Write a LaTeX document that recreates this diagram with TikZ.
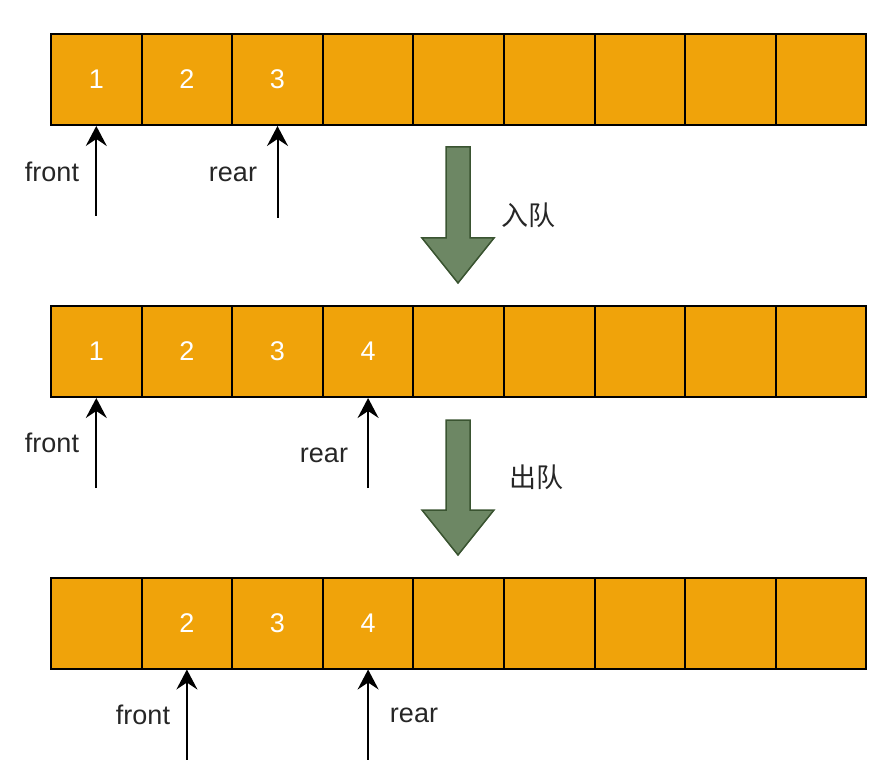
\documentclass[tikz,border=0pt]{standalone}
\usepackage{fontspec}
\setmainfont{Liberation Sans}
\newfontfamily\cjk{Noto Sans CJK SC}
\usepackage{xcolor}
\usetikzlibrary{arrows.meta}
\definecolor{cellorange}{HTML}{F0A30A}
\definecolor{arrowgreen}{HTML}{6D8764}
\definecolor{arrowedge}{HTML}{3A5431}

\begin{document}
\begin{tikzpicture}[x=1pt, y=-1pt,
    cell/.style={draw, line width=2pt, fill=cellorange, minimum width=90.6pt, minimum height=91pt, inner sep=0pt, text=white, font=\fontsize{27}{32}\selectfont},
    ptr/.style={line width=2pt, -{Stealth[length=20pt, width=21pt, inset=7pt]}},
    lbl/.style={text=black!85, font=\fontsize{27}{32}\selectfont},
    bigarrow/.style={draw=arrowedge, line width=1.5pt, fill=arrowgreen}]
    \useasboundingbox (0,0) rectangle (878,767);

    % Queue before enqueue (top)
    \foreach \i/\val in {1/1,2/2,3/3,4/,5/,6/,7/,8/,9/}
        \node[cell] (a\i) at ({51+90.6*(\i-0.5)}, 79.5) {\val};
    \coordinate (afront) at ([yshift=-90pt]a1.south);
    \coordinate (arear) at ([yshift=-92pt]a3.south);
    \draw[ptr] (afront) -- (a1.south);
    \draw[ptr] (arear) -- (a3.south);
    \node[lbl] (afrontlbl) at (52, 172) {front};
    \node[lbl] (arearlbl) at (233, 174) {rear};

    % Enqueue arrow
    \draw[bigarrow] (446,147) -- (470,147) -- (470,238) -- (494,238) -- (458,283) -- (422,238) -- (446,238) -- cycle;
    \node[lbl] (enq) at (528, 215) {\cjk 入队};

    % Queue after enqueue (middle)
    \foreach \i/\val in {1/1,2/2,3/3,4/4,5/,6/,7/,8/,9/}
        \node[cell] (b\i) at ({51+90.6*(\i-0.5)}, 351.5) {\val};
    \coordinate (bfront) at ([yshift=-90pt]b1.south);
    \coordinate (brear) at ([yshift=-90pt]b4.south);
    \draw[ptr] (bfront) -- (b1.south);
    \draw[ptr] (brear) -- (b4.south);
    \node[lbl] (bfrontlbl) at (52, 443) {front};
    \node[lbl] (brearlbl) at (324, 455) {rear};

    % Dequeue arrow
    \draw[bigarrow] (446,420) -- (470,420) -- (470,510) -- (494,510) -- (458,555) -- (422,510) -- (446,510) -- cycle;
    \node[lbl] (deq) at (536, 477) {\cjk 出队};

    % Queue after dequeue (bottom)
    \foreach \i/\val in {1/,2/2,3/3,4/4,5/,6/,7/,8/,9/}
        \node[cell] (c\i) at ({51+90.6*(\i-0.5)}, 623) {\val};
    \coordinate (cfront) at ([yshift=-90pt]c2.south);
    \coordinate (crear) at ([yshift=-90pt]c4.south);
    \draw[ptr] (cfront) -- (c2.south);
    \draw[ptr] (crear) -- (c4.south);
    \node[lbl] (cfrontlbl) at (143, 715) {front};
    \node[lbl] (crearlbl) at (414, 715) {rear};
\end{tikzpicture}
\end{document}
